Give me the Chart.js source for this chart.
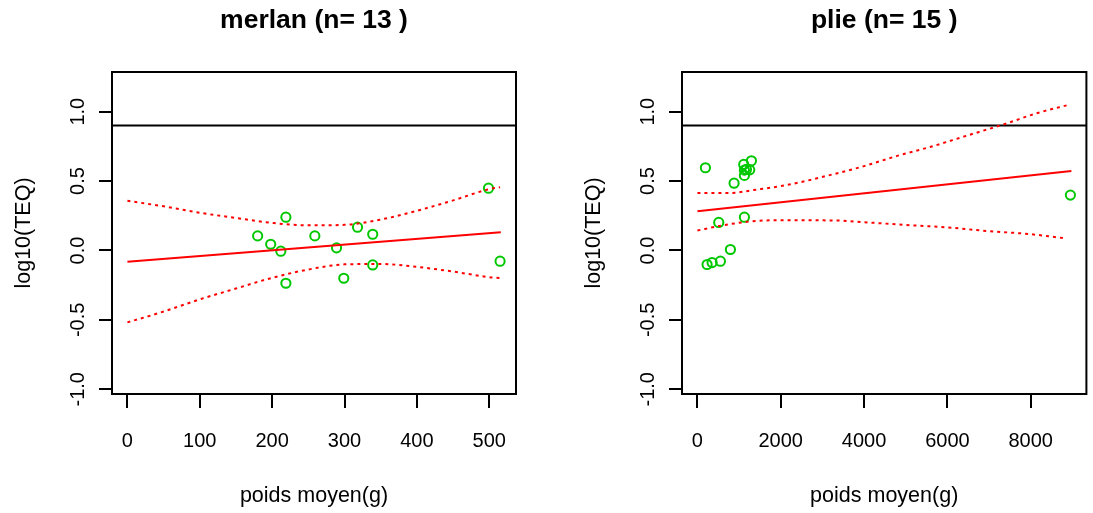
<!DOCTYPE html>
<html>
<head>
<meta charset="utf-8">
<script src="https://cdn.jsdelivr.net/npm/chart.js@4.4.1/dist/chart.umd.min.js"></script>
<style>
  html, body { margin: 0; padding: 0; background: #fff; }
  #wrap { position: relative; width: 1093px; height: 513px; overflow: hidden; }
  canvas { position: absolute; top: 0; }
</style>
</head>
<body>
<div id="wrap">
  <canvas id="chMerlan" width="546" height="513" style="left:0"></canvas>
  <canvas id="chPlie" width="547" height="513" style="left:546px"></canvas>
</div>
<script>
// ---- données ----
const yTicks = [-1.0, -0.5, 0.0, 0.5, 1.0];
const seuil = 0.9;

// merlan
const merlanX = [180, 198, 212, 219, 219, 259, 289, 299, 318, 339, 339, 499, 515];
const merlanY = [0.105, 0.045, -0.005, 0.24, -0.236, 0.105, 0.019, -0.20, 0.168, 0.117, -0.104, 0.449, -0.077];
const merlanFitX = [0, 516];
const merlanFitY = [-0.082, 0.132];
const merlanBandX = [0, 50, 100, 150, 200, 250, 300, 350, 400, 450, 500, 515];
const merlanUpper = [0.358, 0.318, 0.272, 0.234, 0.199, 0.181, 0.185, 0.223, 0.286, 0.361, 0.442, 0.456];
const merlanLower = [-0.518, -0.44, -0.352, -0.274, -0.197, -0.137, -0.100, -0.097, -0.118, -0.152, -0.192, -0.198];
const merlanXTicks = [0, 100, 200, 300, 400, 500];

// plie
const plieX = [192, 232, 352, 552, 512, 792, 880, 1128, 1112, 1128, 1128, 1176, 1256, 1296, 8952];
const plieY = [0.596, -0.101, -0.087, -0.077, 0.202, 0.007, 0.485, 0.24, 0.62, 0.579, 0.541, 0.584, 0.581, 0.646, 0.399];
const plieFitX = [0, 8976];
const plieFitY = [0.283, 0.572];
const plieUpX = [0, 816, 1336, 2136, 3176, 4000, 4776, 5656, 6376, 7416, 8136, 8894];
const plieUpper = [0.415, 0.415, 0.435, 0.471, 0.543, 0.608, 0.68, 0.752, 0.819, 0.915, 0.988, 1.048];
const plieLoX = [0, 536, 1256, 2000, 3336, 4000, 4936, 6000, 6936, 7976, 8856];
const plieLower = [0.144, 0.177, 0.209, 0.218, 0.216, 0.204, 0.185, 0.166, 0.141, 0.118, 0.087];
const plieXTicks = [0, 2000, 4000, 6000, 8000];

const RED = '#ff0000', GREEN = '#00c800';
const FONT = '"Liberation Sans", Arial, sans-serif';

const pts = (xs, ys) => xs.map((x, i) => ({ x, y: ys[i] }));

// cadre, graduations et textes à la manière de R
const rAxes = {
  id: 'rAxes',
  afterDraw(chart, args, o) {
    const { ctx, chartArea: a, scales: { x, y } } = chart;
    ctx.save();
    ctx.strokeStyle = '#000'; ctx.lineWidth = 2; ctx.fillStyle = '#000';
    ctx.strokeRect(a.left, a.top, a.right - a.left, a.bottom - a.top);
    ctx.beginPath();
    o.xTicks.forEach(v => { const px = Math.round(x.getPixelForValue(v)); ctx.moveTo(px, a.bottom); ctx.lineTo(px, a.bottom + 14); });
    yTicks.forEach(v => { const py = Math.round(y.getPixelForValue(v)); ctx.moveTo(a.left, py); ctx.lineTo(a.left - 13, py); });
    ctx.stroke();

    ctx.font = '20px ' + FONT; ctx.textAlign = 'center'; ctx.textBaseline = 'middle';
    o.xTicks.forEach(v => ctx.fillText(String(v), x.getPixelForValue(v), a.bottom + 47));
    yTicks.forEach(v => {
      ctx.save();
      ctx.translate(a.left - 34, y.getPixelForValue(v));
      ctx.rotate(-Math.PI / 2);
      ctx.fillText(v.toFixed(1), 0, 0);
      ctx.restore();
    });

    ctx.font = '21.5px ' + FONT;
    const cx = (a.left + a.right) / 2;
    ctx.fillText('poids moyen(g)', cx, a.bottom + 102);
    ctx.save();
    ctx.translate(a.left - 88, (a.top + a.bottom) / 2);
    ctx.rotate(-Math.PI / 2);
    ctx.fillText('log10(TEQ)', 0, 0);
    ctx.restore();

    ctx.font = 'bold 26.5px ' + FONT;
    ctx.fillText(o.title, cx, 21);
    ctx.restore();
  }
};

function makePanel(id, cfg) {
  return new Chart(document.getElementById(id), {
    type: 'scatter',
    data: {
      datasets: [
        { data: pts(cfg.xs, cfg.ys), showLine: false, pointRadius: 4.6, pointBorderWidth: 2,
          pointBorderColor: GREEN, pointBackgroundColor: 'rgba(0,0,0,0)', order: 1 },
        { data: pts(cfg.fitX, cfg.fitY), showLine: true, borderColor: RED, borderWidth: 2, pointRadius: 0 },
        { data: pts(cfg.upX, cfg.upper), showLine: true, borderColor: RED, borderWidth: 2, borderDash: [3, 4], pointRadius: 0, cubicInterpolationMode: 'monotone' },
        { data: pts(cfg.loX, cfg.lower), showLine: true, borderColor: RED, borderWidth: 2, borderDash: [3, 4], pointRadius: 0, cubicInterpolationMode: 'monotone' },
        { data: pts([cfg.xMin, cfg.xMax], [seuil, seuil]), showLine: true, borderColor: '#000', borderWidth: 2, pointRadius: 0 }
      ]
    },
    options: {
      responsive: false, animation: false, devicePixelRatio: 1,
      layout: { padding: cfg.pad },
      plugins: { legend: { display: false }, tooltip: { enabled: false }, rAxes: { title: cfg.title, xTicks: cfg.xTicks } },
      scales: {
        x: { type: 'linear', min: cfg.xMin, max: cfg.xMax, display: false },
        y: { type: 'linear', min: -1.034, max: 1.286, display: false }
      },
      clip: false
    },
    plugins: [rAxes]
  });
}

makePanel('chMerlan', {
  title: 'merlan (n= 13 )', xs: merlanX, ys: merlanY, fitX: merlanFitX, fitY: merlanFitY,
  upX: merlanBandX, upper: merlanUpper, loX: merlanBandX, lower: merlanLower,
  xTicks: merlanXTicks, xMin: -21.3, xMax: 537,
  pad: { left: 112, right: 30, top: 72, bottom: 119 }
});
makePanel('chPlie', {
  title: 'plie (n= 15 )', xs: plieX, ys: plieY, fitX: plieFitX, fitY: plieFitY,
  upX: plieUpX, upper: plieUpper, loX: plieLoX, lower: plieLower,
  xTicks: plieXTicks, xMin: -370, xMax: 9336,
  pad: { left: 136, right: 6, top: 72, bottom: 119 }
});
</script>
</body>
</html>
